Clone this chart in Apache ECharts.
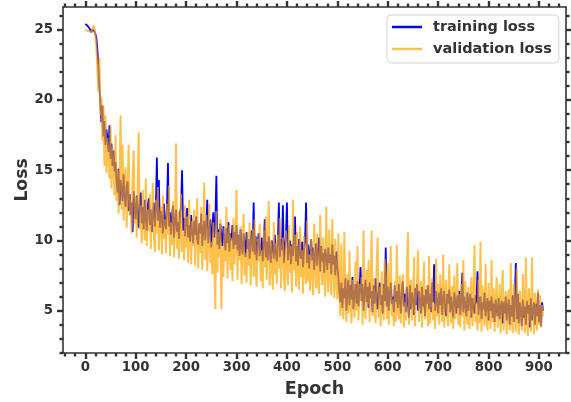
<!DOCTYPE html>
<html>
<head>
<meta charset="utf-8">
<script src="https://cdn.jsdelivr.net/npm/echarts@6/dist/echarts.min.js"></script>
<style>
  html, body { margin: 0; padding: 0; background: #fff; }
  #chart { width: 571px; height: 402px; }
</style>
</head>
<body>
<div id="chart"></div>
<script>
// ---- data (one value every STEP epochs) ----
const STEP = 2;
const seriesNames = ['training loss', 'validation loss'];

const trainLoss = [
  25.4, 25.3, 25.3, 25.2, 25.1, 25.1, 24.8, 25.0, 24.9, 24.9,
  24.7, 24.4, 23.6, 22.3, 20.9, 19.8, 18.4, 19.6, 17.4, 18.5,
  16.8, 17.9, 17.2, 16.3, 18.2, 15.8, 16.9, 15.3, 16.4, 14.9,
  15.6, 14.2, 13.4, 15.1, 12.5, 14.3, 13.6, 12.8, 14.7, 13.1,
  12.4, 13.8, 14.2, 12.1, 13.3, 11.8, 12.7, 10.6, 13.5, 12.2,
  11.5, 13.2, 12.0, 10.9, 12.8, 13.4, 11.2, 12.4, 10.8, 12.9,
  11.6, 10.7, 12.5, 13.0, 11.1, 12.2, 10.6, 11.8, 12.7, 11.0,
  12.3, 15.9, 11.4, 14.3, 10.9, 12.1, 11.5, 10.5, 12.6, 11.2,
  10.8, 12.4, 15.5, 11.0, 12.0, 10.4, 11.7, 12.5, 10.2, 11.4,
  12.2, 10.6, 11.3, 10.1, 11.9, 12.4, 15.0, 10.7, 11.6, 10.3,
  11.5, 12.3, 10.2, 11.1, 9.9, 11.8, 10.6, 9.8, 11.4, 10.4,
  11.7, 10.1, 9.7, 11.2, 10.5, 11.9, 9.6, 10.8, 11.4, 10.0,
  11.1, 12.9, 9.8, 10.6, 11.5, 9.5, 10.9, 12.0, 10.2, 11.3,
  14.6, 9.7, 10.8, 9.4, 11.2, 10.3, 9.6, 11.0, 10.1, 9.3,
  10.9, 9.8, 11.3, 9.2, 10.5, 10.0, 11.1, 9.4, 10.6, 9.7,
  11.1, 9.3, 10.4, 8.9, 10.8, 9.6, 9.0, 10.5, 9.8, 8.8,
  10.6, 9.4, 10.1, 8.7, 9.9, 10.7, 9.2, 12.7, 9.0, 10.3,
  8.6, 9.8, 10.5, 8.9, 9.4, 10.2, 8.5, 9.7, 11.5, 8.8,
  9.9, 8.6, 10.3, 9.2, 8.4, 10.0, 9.5, 8.7, 10.4, 9.1,
  8.5, 9.8, 12.7, 8.8, 10.1, 9.3, 12.5, 8.4, 9.6, 10.2,
  12.7, 8.6, 9.4, 10.0, 8.3, 9.7, 8.9, 10.3, 11.7, 8.5,
  9.6, 8.2, 10.1, 9.0, 8.7, 9.9, 8.1, 9.4, 10.0, 12.7,
  8.4, 9.7, 8.0, 9.2, 10.1, 8.6, 9.5, 7.9, 9.0, 9.8,
  8.2, 9.3, 10.2, 7.8, 9.6, 8.5, 9.1, 7.7, 9.4, 8.8,
  7.9, 9.5, 8.4, 9.0, 7.6, 9.7, 8.3, 8.9, 7.5, 9.2,
  8.1, 7.4, 6.3, 5.6, 7.0, 5.2, 6.6, 5.9, 7.3, 5.0,
  6.4, 7.2, 5.4, 6.8, 5.8, 7.4, 5.1, 6.2, 6.9, 5.5,
  7.1, 5.3, 6.5, 8.1, 5.7, 6.9, 5.0, 6.3, 7.2, 5.6,
  6.7, 5.2, 7.0, 5.9, 6.4, 4.9, 6.8, 5.5, 7.3, 5.8,
  5.1, 6.6, 7.0, 5.4, 6.1, 4.8, 6.9, 5.7, 9.5, 5.3,
  6.7, 5.0, 6.3, 7.0, 5.5, 6.0, 4.9, 6.8, 5.6, 6.4,
  5.2, 6.9, 5.8, 4.8, 6.5, 7.1, 5.3, 6.2, 4.9, 6.7,
  5.6, 4.5, 6.8, 5.1, 6.3, 5.8, 4.7, 6.6, 5.4, 6.9,
  5.0, 6.4, 5.7, 4.8, 6.7, 5.3, 6.1, 4.6, 6.5, 5.5,
  6.8, 5.1, 6.2, 4.9, 7.0, 5.6, 8.3, 5.0, 6.4, 5.7,
  4.8, 6.3, 5.4, 6.6, 4.7, 5.9, 6.4, 5.1, 4.6, 6.2,
  5.5, 6.5, 4.9, 6.0, 5.3, 4.5, 6.3, 5.7, 4.8, 6.1,
  5.2, 6.4, 4.7, 5.8, 7.7, 4.9, 6.0, 5.4, 4.6, 6.3,
  5.0, 5.7, 6.2, 4.5, 5.9, 5.3, 4.8, 6.1, 5.5, 7.8,
  4.7, 5.8, 6.0, 4.4, 5.6, 5.1, 6.3, 4.6, 5.4, 5.9,
  4.3, 5.7, 5.0, 6.0, 4.5, 5.5, 4.2, 5.8, 5.1, 4.6,
  5.9, 4.4, 5.3, 5.7, 4.1, 5.6, 4.8, 6.0, 4.3, 5.2,
  5.8, 4.0, 5.4, 4.6, 6.1, 4.2, 5.5, 8.4, 4.4, 6.2,
  4.1, 5.6, 5.0, 3.9, 5.8, 4.5, 5.3, 4.0, 5.7, 4.8,
  5.4, 3.8, 5.9, 4.3, 5.1, 5.6, 4.0, 5.5, 4.6, 6.3,
  4.2, 5.4, 3.9, 5.6, 5.0
];

const valLoss = [
  25.0, 25.0, 24.9, 24.9, 24.9, 24.8, 24.8, 25.0, 25.3, 25.1,
  24.6, 23.8, 22.2, 20.6, 23.0, 18.9, 20.2, 17.1, 19.6, 15.3,
  18.9, 14.8, 17.3, 16.0, 14.4, 18.2, 13.7, 16.6, 15.1, 13.2,
  17.5, 12.8, 15.0, 11.9, 14.3, 18.9, 12.2, 16.8, 11.4, 13.9,
  15.2, 10.9, 13.4, 16.8, 11.8, 12.9, 10.5, 14.6, 16.4, 11.2,
  13.1, 10.2, 14.0, 17.7, 10.8, 12.5, 9.8, 13.6, 11.4, 10.0,
  14.4, 9.6, 12.2, 10.7, 13.3, 9.4, 11.8, 14.1, 10.3, 9.2,
  12.9, 10.5, 13.8, 9.3, 11.6, 12.4, 9.0, 13.2, 10.1, 11.5,
  9.1, 12.6, 10.4, 13.9, 8.9, 11.3, 9.7, 12.8, 8.8, 10.9,
  16.9, 9.4, 12.1, 8.7, 11.0, 13.3, 9.2, 10.6, 8.6, 12.5,
  9.5, 11.7, 8.4, 12.9, 10.2, 8.3, 11.4, 9.6, 12.2, 8.2,
  10.8, 13.0, 8.0, 11.2, 9.1, 12.4, 7.9, 10.5, 14.1, 8.6,
  11.8, 7.8, 10.3, 12.6, 8.4, 9.9, 7.6, 11.3, 8.1, 5.1,
  12.1, 7.7, 10.6, 8.8, 11.5, 5.1, 9.5, 7.4, 10.9, 8.5,
  12.4, 7.3, 9.8, 11.1, 7.9, 10.2, 7.1, 11.6, 8.3, 9.4,
  13.6, 7.2, 10.4, 8.6, 11.0, 6.9, 9.7, 11.9, 7.5, 9.1,
  7.0, 10.6, 8.2, 11.3, 6.8, 9.5, 10.8, 7.4, 11.5, 8.0,
  6.7, 10.1, 8.5, 11.2, 7.1, 9.3, 6.6, 10.7, 8.1, 11.7,
  7.2, 9.6, 12.8, 6.8, 10.0, 8.2, 6.5, 11.3, 7.6, 9.8,
  6.9, 10.4, 8.0, 11.6, 6.6, 9.1, 10.2, 7.3, 6.4, 10.7,
  8.4, 6.8, 11.1, 7.7, 9.6, 6.3, 12.9, 7.9, 10.4, 6.7,
  10.6, 8.1, 6.5, 11.0, 7.4, 9.3, 6.2, 10.3, 8.0, 6.9,
  11.4, 7.1, 9.0, 6.4, 10.1, 7.8, 6.1, 11.2, 8.3, 6.6,
  10.5, 7.0, 6.2, 11.8, 8.5, 6.8, 10.2, 7.3, 6.0, 12.4,
  8.0, 6.3, 10.8, 7.6, 6.1, 11.5, 8.2, 5.9, 10.1, 7.0,
  5.8, 10.5, 6.6, 4.6, 9.8, 5.3, 4.4, 10.6, 6.0, 4.2,
  7.6, 4.8, 9.3, 5.5, 4.1, 7.2, 6.3, 4.5, 8.5, 5.0,
  9.6, 4.3, 6.9, 5.7, 7.4, 4.0, 10.7, 5.2, 4.4, 7.9,
  5.5, 8.6, 4.2, 6.4, 10.7, 4.6, 7.3, 5.1, 4.1, 8.2,
  10.2, 4.5, 6.7, 3.9, 7.8, 5.4, 4.3, 8.7, 7.0, 4.4,
  8.4, 4.0, 6.5, 9.6, 4.6, 5.8, 3.9, 7.1, 4.2, 9.7,
  5.1, 4.4, 7.5, 4.1, 6.2, 7.6, 3.8, 5.6, 4.3, 8.1,
  10.6, 4.0, 6.6, 7.2, 4.3, 5.4, 8.8, 3.9, 6.0, 6.9,
  9.3, 4.2, 5.7, 7.1, 3.8, 6.3, 8.5, 4.4, 5.2, 6.8,
  3.9, 8.9, 4.1, 6.0, 7.3, 4.3, 5.5, 3.7, 8.7, 4.6,
  6.9, 4.0, 7.6, 5.3, 4.2, 9.0, 3.8, 6.1, 7.2, 4.5,
  3.9, 8.3, 5.6, 4.1, 6.8, 3.7, 7.5, 4.4, 5.8, 8.4,
  4.0, 6.2, 3.8, 6.9, 4.6, 8.6, 3.6, 7.1, 5.0, 4.0,
  6.7, 3.7, 5.5, 7.4, 3.9, 6.1, 9.7, 4.2, 5.6, 3.6,
  7.2, 4.1, 9.9, 3.5, 6.8, 5.3, 3.9, 8.3, 4.4, 3.6,
  7.0, 5.1, 3.7, 8.6, 4.2, 6.6, 3.5, 5.9, 7.4, 3.8,
  4.6, 6.9, 3.4, 5.7, 7.9, 3.6, 4.9, 6.4, 3.3, 5.8,
  6.5, 3.6, 8.4, 4.3, 3.4, 6.9, 5.0, 3.5, 8.0, 4.7,
  3.3, 6.4, 4.8, 3.6, 7.6, 5.2, 3.4, 8.8, 4.5, 3.2,
  6.6, 4.9, 3.5, 8.8, 5.1, 3.3, 6.3, 4.2, 3.6, 6.5,
  4.0, 6.1, 3.8, 5.4, 4.6
];

// ---- ticks ----
const xMajorTicks = [0, 100, 200, 300, 400, 500, 600, 700, 800, 900];
const xMinorTicks = [-40, -20, 20, 40, 60, 80, 120, 140, 160, 180, 220, 240, 260, 280,
  320, 340, 360, 380, 420, 440, 460, 480, 520, 540, 560, 580, 620, 640, 660, 680,
  720, 740, 760, 780, 820, 840, 860, 880, 920, 940];
const yMajorTicks = [5, 10, 15, 20, 25];
const yMinorTicks = [2, 3, 4, 6, 7, 8, 9, 11, 12, 13, 14, 16, 17, 18, 19, 21, 22, 23, 24, 26];

const X_MIN = -44.2, X_MAX = 953.6;
const Y_MIN = 1.99, Y_MAX = 26.61;

// ---- chart ----
const INK = '#333333';
const FONT = "'DejaVu Sans', sans-serif";
const GRID_BOX = { left: 63, right: 5, top: 7, bottom: 49, containLabel: false, outerBoundsMode: 'none' };

function makeAxis(kind, gridIndex, position, ticks, tickLen, withLabels, withLine, extra) {
  const ax = {
    type: 'value',
    gridIndex: gridIndex,
    position: position,
    min: kind === 'x' ? X_MIN : Y_MIN,
    max: kind === 'x' ? X_MAX : Y_MAX,
    splitLine: { show: false },
    axisLine: { show: true, onZero: false,
      lineStyle: { color: INK, width: 1.6, opacity: withLine ? 1 : 0 } },
    axisTick: { show: true, inside: false, length: tickLen, customValues: ticks,
      lineStyle: { color: INK, width: 2.4 } },
    axisLabel: { show: withLabels, customValues: ticks, color: INK, fontFamily: FONT,
      fontWeight: 'bold', fontSize: 13.3, margin: kind === 'x' ? 8 : 10 },
    nameMoveOverlap: false
  };
  return Object.assign(ax, extra || {});
}

const chart = echarts.init(document.getElementById('chart'), null, { renderer: 'canvas' });

const option = {
  animation: false,
  backgroundColor: '#ffffff',
  grid: [Object.assign({}, GRID_BOX), Object.assign({}, GRID_BOX)],
  xAxis: [
    makeAxis('x', 0, 'bottom', xMajorTicks, 6, true, true, {
      name: 'Epoch', nameLocation: 'middle', nameGap: 27,
      nameTextStyle: { color: INK, fontFamily: FONT, fontWeight: 'bold', fontSize: 17.5 }
    }),
    makeAxis('x', 0, 'top', xMajorTicks, 6, false, true),
    makeAxis('x', 1, 'bottom', xMinorTicks, 3.5, false, false),
    makeAxis('x', 1, 'top', xMinorTicks, 3.5, false, false)
  ],
  yAxis: [
    makeAxis('y', 0, 'left', yMajorTicks, 6, true, true, {
      name: 'Loss', nameLocation: 'middle', nameGap: 32,
      nameTextStyle: { color: INK, fontFamily: FONT, fontWeight: 'bold', fontSize: 17.2 }
    }),
    makeAxis('y', 0, 'right', yMajorTicks, 6, false, true),
    makeAxis('y', 1, 'left', yMinorTicks, 3.5, false, false),
    makeAxis('y', 1, 'right', yMinorTicks, 3.5, false, false)
  ],
  legend: {
    orient: 'vertical',
    left: 387,
    top: 15,
    icon: 'rect',
    itemWidth: 30,
    itemHeight: 2.5,
    itemGap: 6,
    padding: [4, 7, 6, 5],
    backgroundColor: 'rgba(255,255,255,0.8)',
    borderColor: '#d6d6d6',
    borderWidth: 1,
    borderRadius: 4,
    textStyle: { color: INK, fontFamily: FONT, fontWeight: 'bold', fontSize: 14.5,
      lineHeight: 16, padding: [0, 0, 0, 6] },
    data: [
      { name: seriesNames[0], itemStyle: { color: '#0000ff' } },
      { name: seriesNames[1], itemStyle: { color: 'rgba(255,165,0,0.7)' } }
    ]
  },
  series: [
    {
      name: seriesNames[0],
      type: 'line',
      xAxisIndex: 0, yAxisIndex: 0,
      showSymbol: false,
      symbol: 'none',
      data: trainLoss.map((v, i) => [i * STEP, v]),
      itemStyle: { color: '#0000ff' },
      lineStyle: { color: '#0000ff', width: 1.8 },
      z: 2
    },
    {
      name: seriesNames[1],
      type: 'line',
      xAxisIndex: 0, yAxisIndex: 0,
      showSymbol: false,
      symbol: 'none',
      data: valLoss.map((v, i) => [i * STEP, v]),
      itemStyle: { color: '#FFA500' },
      lineStyle: { color: '#FFA500', width: 2, opacity: 0.7 },
      z: 3
    }
  ]
};

chart.setOption(option);
</script>
</body>
</html>
